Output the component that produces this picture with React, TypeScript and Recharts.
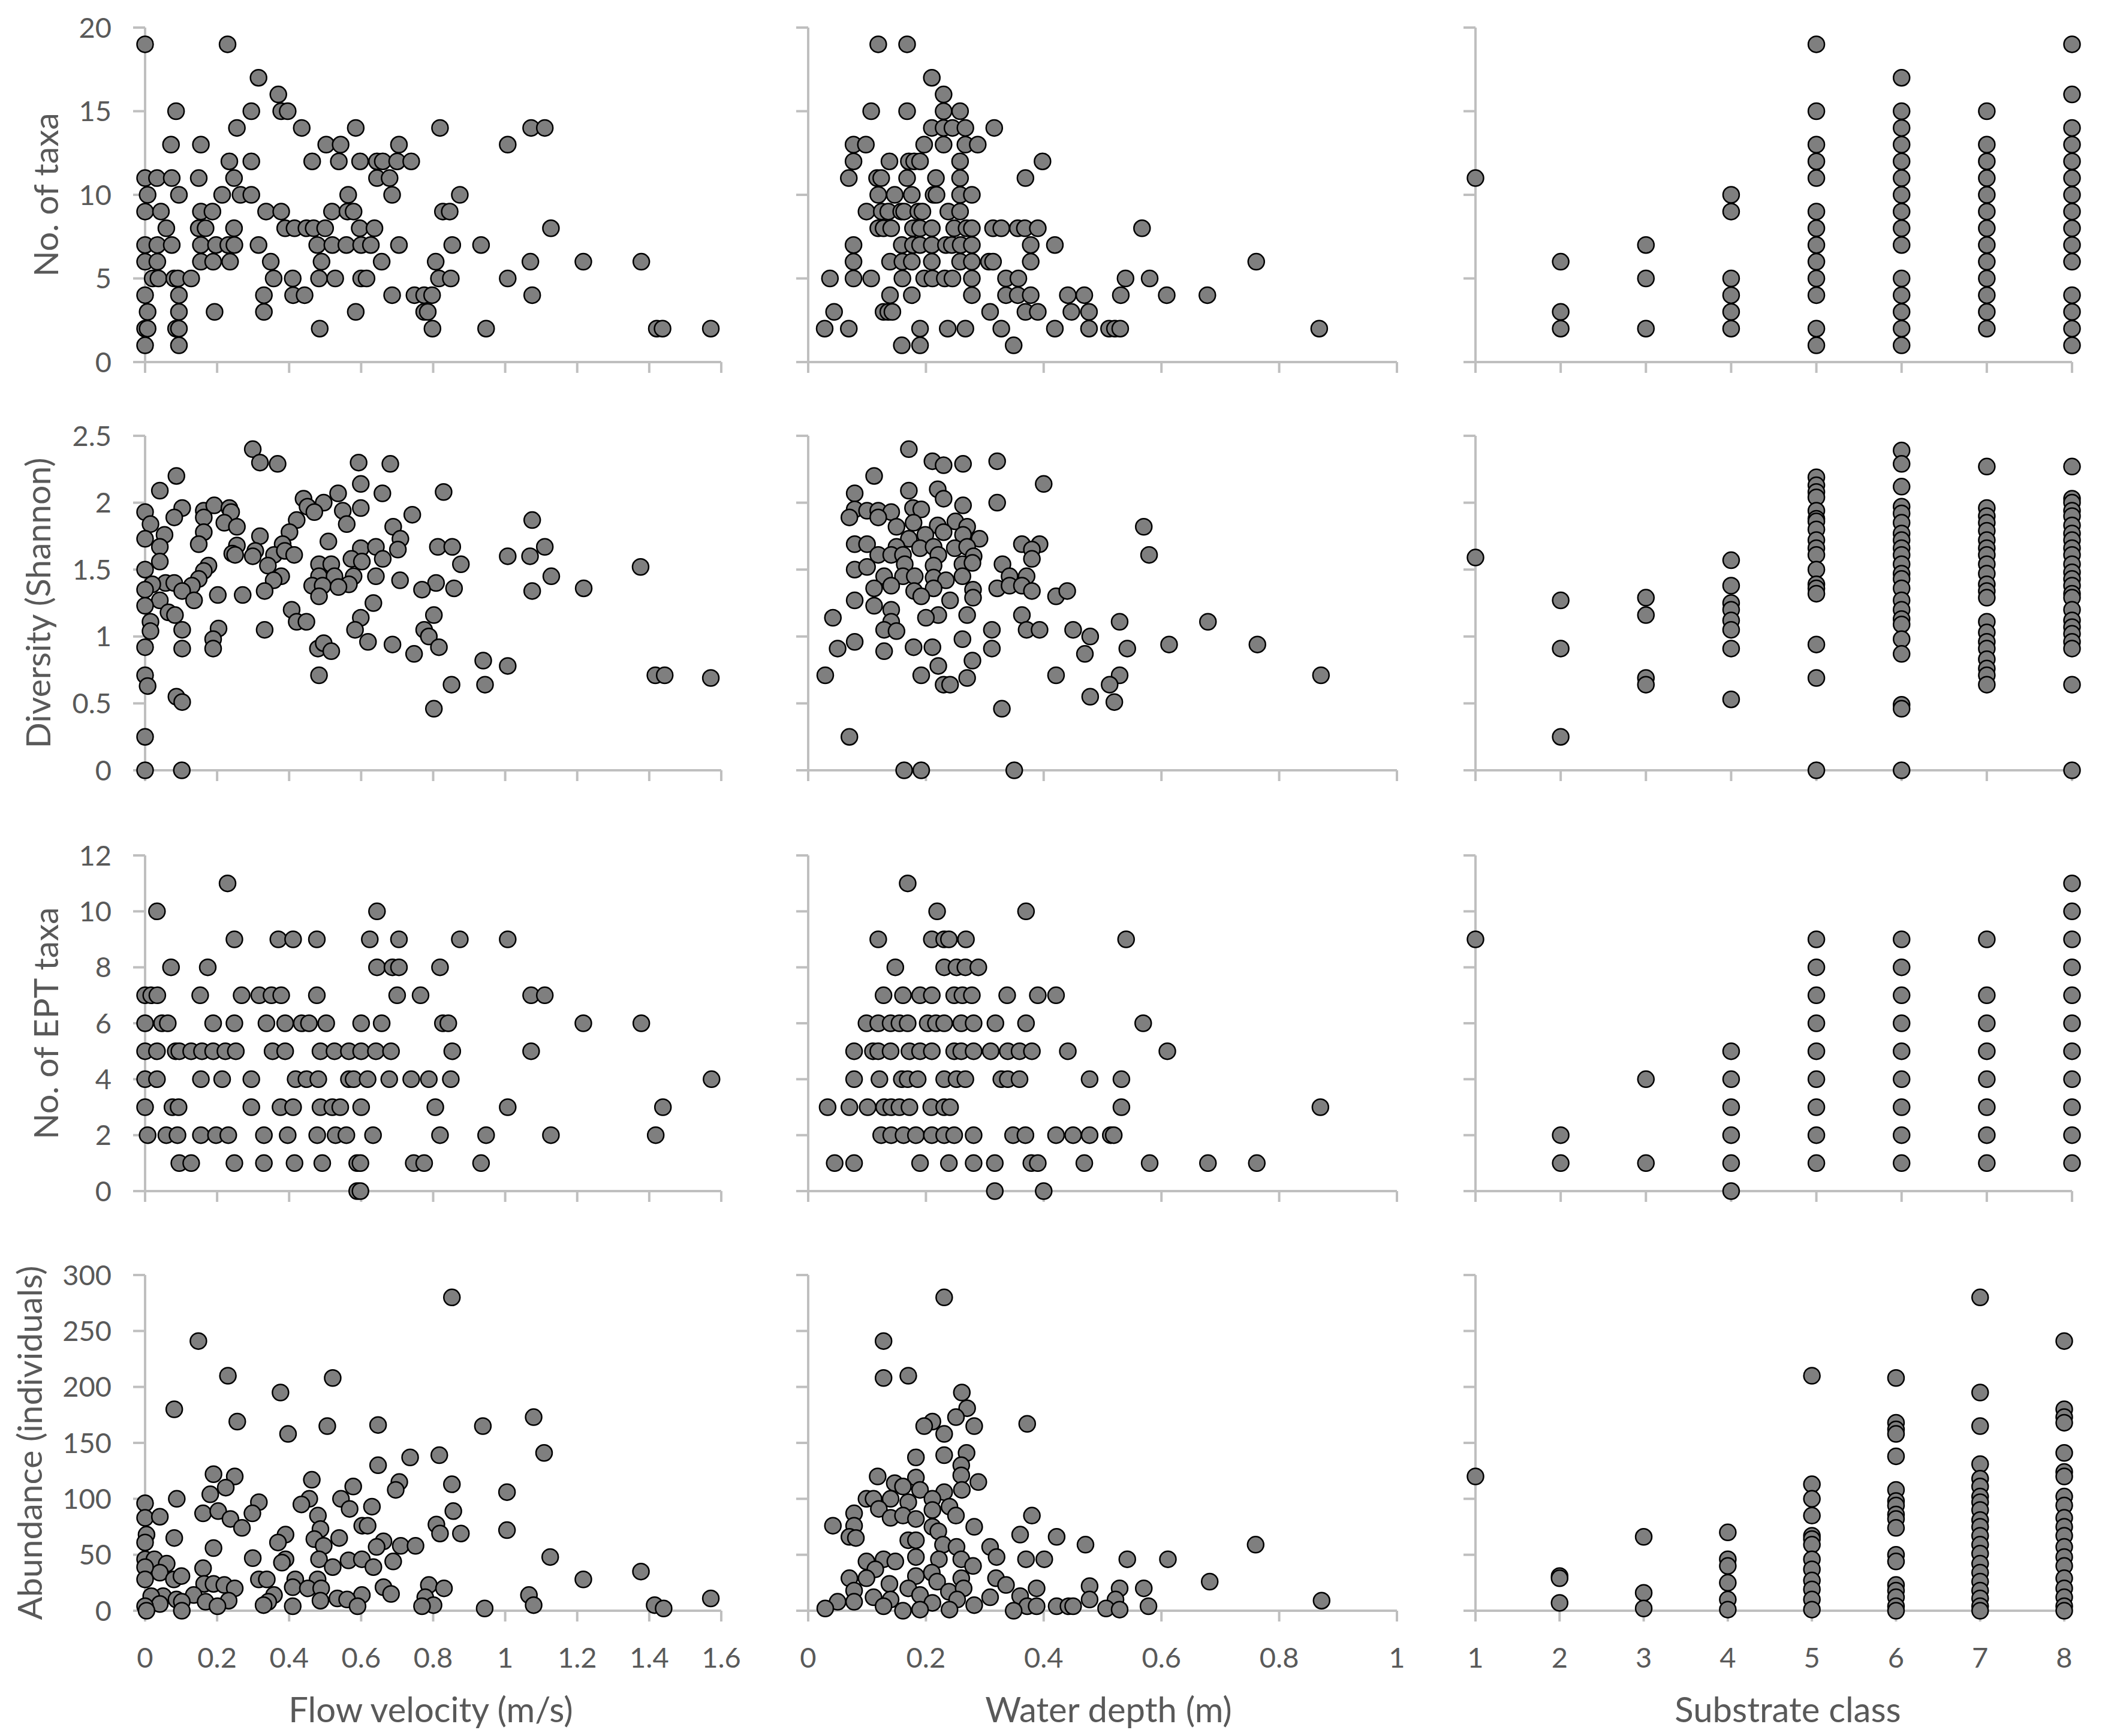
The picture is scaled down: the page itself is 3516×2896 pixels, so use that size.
import { ScatterChart, Scatter, XAxis, YAxis } from "recharts";

// ---- data ----
// rows: [y level, x values at that level]
const taxaFlow: [number, number[]][] = [
  [19, [0, 0.229]],
  [17, [0.315]],
  [16, [0.37]],
  [15, [0.086, 0.295, 0.378, 0.396]],
  [14, [0.255, 0.435, 0.585, 0.819, 1.072, 1.11]],
  [13, [0.072, 0.155, 0.503, 0.543, 0.705, 1.007]],
  [12, [0.234, 0.295, 0.464, 0.538, 0.597, 0.644, 0.66, 0.7, 0.739]],
  [11, [0, 0.033, 0.074, 0.149, 0.247, 0.644, 0.679]],
  [10, [0.007, 0.094, 0.214, 0.265, 0.295, 0.564, 0.686, 0.874]],
  [9, [0, 0.044, 0.155, 0.187, 0.336, 0.378, 0.519, 0.562, 0.579, 0.827, 0.846]],
  [8, [0.059, 0.149, 0.168, 0.247, 0.389, 0.415, 0.448, 0.468, 0.5, 0.596, 0.637, 1.127]],
  [7, [0, 0.034, 0.074, 0.155, 0.197, 0.231, 0.248, 0.315, 0.478, 0.52, 0.559, 0.6, 0.627, 0.705, 0.853, 0.933]],
  [6, [0, 0.034, 0.155, 0.189, 0.236, 0.349, 0.49, 0.657, 0.807, 1.07, 1.217, 1.378]],
  [5, [0.021, 0.037, 0.081, 0.091, 0.128, 0.357, 0.41, 0.483, 0.528, 0.6, 0.615, 0.816, 0.849, 1.007]],
  [4, [0, 0.094, 0.33, 0.411, 0.443, 0.686, 0.748, 0.775, 0.797, 1.075]],
  [3, [0.007, 0.094, 0.193, 0.33, 0.585, 0.775, 0.785]],
  [2, [0, 0.007, 0.086, 0.094, 0.485, 0.798, 0.947, 1.421, 1.437, 1.571]],
  [1, [0, 0.094]],
];

const taxaDepth: [number, number[]][] = [
  [19, [0.119, 0.168]],
  [17, [0.21]],
  [16, [0.23]],
  [15, [0.107, 0.168, 0.23, 0.258]],
  [14, [0.21, 0.23, 0.245, 0.267, 0.316]],
  [13, [0.077, 0.098, 0.197, 0.23, 0.267, 0.288]],
  [12, [0.077, 0.138, 0.171, 0.18, 0.19, 0.258, 0.398]],
  [11, [0.069, 0.117, 0.124, 0.168, 0.217, 0.258, 0.369]],
  [10, [0.119, 0.147, 0.176, 0.213, 0.218, 0.258, 0.278]],
  [9, [0.099, 0.125, 0.136, 0.158, 0.163, 0.187, 0.194, 0.238, 0.258]],
  [8, [0.119, 0.128, 0.141, 0.178, 0.19, 0.21, 0.248, 0.269, 0.278, 0.314, 0.328, 0.356, 0.368, 0.39, 0.567]],
  [7, [0.077, 0.159, 0.178, 0.19, 0.21, 0.234, 0.244, 0.259, 0.278, 0.378, 0.419]],
  [6, [0.077, 0.139, 0.16, 0.176, 0.21, 0.258, 0.278, 0.307, 0.314, 0.378, 0.761]],
  [5, [0.037, 0.077, 0.107, 0.16, 0.197, 0.211, 0.232, 0.245, 0.278, 0.336, 0.357, 0.539, 0.58]],
  [4, [0.139, 0.176, 0.278, 0.336, 0.356, 0.378, 0.441, 0.469, 0.531, 0.609, 0.678]],
  [3, [0.044, 0.128, 0.136, 0.143, 0.309, 0.369, 0.39, 0.447, 0.477]],
  [2, [0.028, 0.069, 0.19, 0.237, 0.267, 0.328, 0.419, 0.477, 0.511, 0.521, 0.53, 0.868]],
  [1, [0.159, 0.19, 0.349]],
];

// cols: [substrate class, y values in that class]
const taxaSubstrate: [number, number[]][] = [
  [1, [11]],
  [2, [6, 3, 2]],
  [3, [7, 5, 2]],
  [4, [10, 9, 5, 4, 3, 2]],
  [5, [19, 15, 13, 12, 11, 9, 8, 7, 6, 5, 4, 2, 1]],
  [6, [17, 15, 14, 13, 12, 11, 10, 9, 8, 7, 5, 4, 3, 2, 1]],
  [7, [15, 13, 12, 11, 10, 9, 8, 7, 6, 5, 4, 3, 2]],
  [8, [19, 16, 14, 13, 12, 11, 10, 9, 8, 7, 6, 4, 3, 2, 1]],
];

// pairs: [x, y]
const divFlow: [number, number][] = [
  [0.299, 2.4], [0.319, 2.3], [0.368, 2.29], [0.593, 2.3], [0.681, 2.29], [0.087, 2.2], [0.041, 2.09],
  [0.599, 2.14], [0.659, 2.07], [0.829, 2.08], [0.536, 2.07], [0.44, 2.03], [0.496, 2.0], [0, 1.93],
  [0.103, 1.96], [0.081, 1.89], [0.163, 1.94], [0.192, 1.98], [0.234, 1.96], [0.239, 1.93], [0.163, 1.89],
  [0.549, 1.94], [0.599, 1.96], [0.451, 1.97], [0.47, 1.93], [0.742, 1.91], [1.075, 1.87], [0.015, 1.84],
  [0.22, 1.85], [0.255, 1.82], [0.421, 1.87], [0.56, 1.84], [0.689, 1.82], [0.163, 1.78], [0.401, 1.78],
  [0.054, 1.76], [0.319, 1.75], [0, 1.73], [0.709, 1.73], [0.509, 1.71], [0.149, 1.69], [0.041, 1.67],
  [0.255, 1.68], [0.382, 1.69], [0.599, 1.66], [0.641, 1.67], [0.813, 1.67], [0.853, 1.67], [1.11, 1.67],
  [0.306, 1.64], [0.242, 1.62], [0.25, 1.61], [0.299, 1.6], [0.358, 1.61], [0.388, 1.64], [0.414, 1.61],
  [0.702, 1.65], [1.007, 1.6], [1.069, 1.6], [0.573, 1.58], [0.66, 1.58], [0.041, 1.56], [0.602, 1.56],
  [0.176, 1.53], [0.877, 1.54], [1.376, 1.52], [0, 1.5], [0.341, 1.53], [0.483, 1.54], [0.517, 1.54],
  [0.163, 1.49], [0.378, 1.45], [0.579, 1.45], [0.641, 1.45], [1.128, 1.45], [0.149, 1.43], [0.357, 1.42],
  [0.483, 1.45], [0.526, 1.45], [0.057, 1.4], [0.081, 1.4], [0.02, 1.39], [0.708, 1.42], [0.808, 1.4],
  [0.13, 1.38], [0.566, 1.39], [0.464, 1.38], [0.493, 1.38], [0, 1.35], [0.103, 1.34], [0.769, 1.35],
  [0.858, 1.36], [1.218, 1.36], [0.537, 1.37], [1.075, 1.34], [0.202, 1.31], [0.271, 1.31], [0.332, 1.34],
  [0.483, 1.3], [0.041, 1.27], [0.136, 1.27], [0, 1.23], [0.634, 1.25], [0.407, 1.2], [0.065, 1.18],
  [0.083, 1.16], [0.599, 1.14], [0.802, 1.16], [0.015, 1.11], [0.421, 1.11], [0.448, 1.11], [0.015, 1.04],
  [0.103, 1.05], [0.204, 1.06], [0.332, 1.05], [0.583, 1.05], [0.775, 1.05], [0.788, 1.0], [0.189, 0.98],
  [0, 0.92], [0.103, 0.91], [0.189, 0.91], [0.48, 0.91], [0.496, 0.95], [0.517, 0.89], [0.619, 0.96],
  [0.687, 0.94], [0.816, 0.92], [0.747, 0.87], [0.939, 0.82], [1.007, 0.78], [0, 0.71], [0.483, 0.71],
  [1.417, 0.71], [1.443, 0.71], [1.571, 0.69], [0.007, 0.63], [0.851, 0.64], [0.944, 0.64], [0.087, 0.55],
  [0.103, 0.51], [0.802, 0.46], [0, 0.25], [0, 0], [0.102, 0],
];

const divDepth: [number, number][] = [
  [0.171, 2.4], [0.211, 2.31], [0.23, 2.28], [0.263, 2.29], [0.321, 2.31], [0.112, 2.2], [0.4, 2.14],
  [0.079, 2.07], [0.171, 2.09], [0.22, 2.1], [0.23, 2.03], [0.321, 2.0], [0.263, 1.98], [0.079, 1.95],
  [0.1, 1.94], [0.119, 1.94], [0.141, 1.93], [0.178, 1.96], [0.192, 1.95], [0.07, 1.89], [0.119, 1.89],
  [0.179, 1.85], [0.15, 1.82], [0.22, 1.83], [0.25, 1.86], [0.27, 1.82], [0.57, 1.82], [0.199, 1.76],
  [0.23, 1.78], [0.263, 1.76], [0.291, 1.73], [0.171, 1.73], [0.079, 1.69], [0.1, 1.69], [0.15, 1.67],
  [0.19, 1.66], [0.213, 1.67], [0.249, 1.66], [0.27, 1.67], [0.363, 1.69], [0.393, 1.69], [0.38, 1.65],
  [0.119, 1.61], [0.141, 1.61], [0.161, 1.61], [0.221, 1.61], [0.281, 1.6], [0.38, 1.58], [0.579, 1.61],
  [0.079, 1.5], [0.1, 1.52], [0.164, 1.54], [0.213, 1.53], [0.262, 1.54], [0.279, 1.55], [0.33, 1.54],
  [0.129, 1.45], [0.161, 1.45], [0.181, 1.45], [0.213, 1.44], [0.234, 1.42], [0.262, 1.45], [0.342, 1.45],
  [0.371, 1.45], [0.112, 1.36], [0.141, 1.38], [0.18, 1.34], [0.213, 1.36], [0.28, 1.35], [0.321, 1.36],
  [0.342, 1.38], [0.363, 1.38], [0.38, 1.34], [0.421, 1.3], [0.44, 1.34], [0.192, 1.3], [0.28, 1.29],
  [0.079, 1.27], [0.241, 1.27], [0.112, 1.23], [0.141, 1.2], [0.221, 1.16], [0.2, 1.14], [0.27, 1.16],
  [0.363, 1.16], [0.042, 1.14], [0.529, 1.11], [0.679, 1.11], [0.141, 1.11], [0.129, 1.05], [0.15, 1.04],
  [0.312, 1.05], [0.371, 1.05], [0.393, 1.05], [0.45, 1.05], [0.479, 1.0], [0.262, 0.98], [0.079, 0.96],
  [0.613, 0.94], [0.763, 0.94], [0.05, 0.91], [0.179, 0.92], [0.211, 0.92], [0.312, 0.91], [0.129, 0.89],
  [0.542, 0.91], [0.47, 0.87], [0.279, 0.82], [0.221, 0.78], [0.029, 0.71], [0.192, 0.71], [0.421, 0.71],
  [0.529, 0.71], [0.871, 0.71], [0.27, 0.69], [0.23, 0.64], [0.241, 0.64], [0.512, 0.64], [0.479, 0.55],
  [0.52, 0.51], [0.329, 0.46], [0.07, 0.25], [0.163, 0], [0.192, 0], [0.35, 0],
];

const divSubstrate: [number, number[]][] = [
  [1, [1.59]],
  [2, [1.27, 0.91, 0.25]],
  [3, [1.29, 1.16, 0.69, 0.64]],
  [4, [1.57, 1.38, 1.25, 1.2, 1.12, 1.05, 0.91, 0.53]],
  [5, [2.19, 2.13, 2.08, 2.04, 1.94, 1.88, 1.86, 1.8, 1.72, 1.66, 1.61, 1.5, 1.39, 1.36, 1.32, 0.94, 0.69, 0]],
  [6, [2.39, 2.29, 2.12, 1.97, 1.92, 1.85, 1.77, 1.72, 1.66, 1.61, 1.54, 1.47, 1.43, 1.36, 1.27, 1.2, 1.13, 1.09, 0.98, 0.87, 0.49, 0.46, 0]],
  [7, [2.27, 1.96, 1.9, 1.85, 1.79, 1.72, 1.66, 1.61, 1.54, 1.47, 1.39, 1.34, 1.29, 1.11, 1.03, 0.96, 0.91, 0.83, 0.76, 0.71, 0.64]],
  [8, [2.27, 2.03, 2.0, 1.94, 1.9, 1.83, 1.77, 1.72, 1.66, 1.61, 1.54, 1.48, 1.43, 1.38, 1.32, 1.29, 1.2, 1.12, 1.07, 1.02, 0.96, 0.91, 0.64, 0]],
];

const eptFlow: [number, number[]][] = [
  [11, [0.229]],
  [10, [0.033, 0.644]],
  [9, [0.248, 0.37, 0.411, 0.477, 0.624, 0.705, 0.874, 1.007]],
  [8, [0.072, 0.174, 0.644, 0.687, 0.705, 0.819]],
  [7, [0, 0.017, 0.034, 0.153, 0.268, 0.317, 0.351, 0.378, 0.477, 0.7, 0.765, 1.072, 1.11]],
  [6, [0, 0.047, 0.063, 0.189, 0.248, 0.337, 0.389, 0.435, 0.455, 0.503, 0.6, 0.657, 0.827, 0.842, 1.217, 1.378]],
  [5, [0, 0.033, 0.085, 0.095, 0.128, 0.158, 0.189, 0.223, 0.252, 0.354, 0.389, 0.487, 0.526, 0.566, 0.6, 0.641, 0.683, 0.853, 1.072]],
  [4, [0, 0.033, 0.155, 0.214, 0.295, 0.418, 0.448, 0.481, 0.566, 0.579, 0.618, 0.678, 0.739, 0.788, 0.849, 1.573]],
  [3, [0, 0.076, 0.093, 0.295, 0.376, 0.411, 0.487, 0.52, 0.542, 0.6, 0.806, 1.007, 1.438]],
  [2, [0.007, 0.059, 0.09, 0.155, 0.197, 0.231, 0.33, 0.396, 0.478, 0.529, 0.559, 0.633, 0.819, 0.947, 1.127, 1.418]],
  [1, [0.095, 0.128, 0.248, 0.33, 0.415, 0.492, 0.589, 0.598, 0.746, 0.775, 0.933]],
  [0, [0.589, 0.598]],
];

const eptDepth: [number, number[]][] = [
  [11, [0.169]],
  [10, [0.219, 0.37]],
  [9, [0.119, 0.21, 0.231, 0.239, 0.268, 0.54]],
  [8, [0.148, 0.231, 0.252, 0.267, 0.289]],
  [7, [0.128, 0.161, 0.19, 0.21, 0.248, 0.262, 0.278, 0.338, 0.39, 0.421]],
  [6, [0.099, 0.119, 0.14, 0.155, 0.169, 0.203, 0.217, 0.231, 0.26, 0.281, 0.318, 0.37, 0.569]],
  [5, [0.078, 0.11, 0.119, 0.14, 0.172, 0.19, 0.21, 0.248, 0.26, 0.281, 0.31, 0.339, 0.359, 0.38, 0.441, 0.61]],
  [4, [0.078, 0.121, 0.159, 0.169, 0.186, 0.231, 0.252, 0.267, 0.328, 0.339, 0.359, 0.478, 0.532]],
  [3, [0.033, 0.07, 0.101, 0.129, 0.141, 0.155, 0.172, 0.209, 0.231, 0.241, 0.532, 0.87]],
  [2, [0.124, 0.141, 0.162, 0.183, 0.21, 0.231, 0.248, 0.281, 0.348, 0.369, 0.421, 0.45, 0.478, 0.514, 0.519]],
  [1, [0.045, 0.078, 0.19, 0.239, 0.281, 0.317, 0.379, 0.39, 0.469, 0.58, 0.679, 0.762]],
  [0, [0.317, 0.4]],
];

const eptSubstrate: [number, number[]][] = [
  [1, [9]],
  [2, [2, 1]],
  [3, [4, 1]],
  [4, [5, 4, 3, 2, 1, 0]],
  [5, [9, 8, 7, 6, 5, 4, 3, 2, 1]],
  [6, [9, 8, 7, 6, 5, 4, 3, 2, 1]],
  [7, [9, 7, 6, 5, 4, 3, 2, 1]],
  [8, [11, 10, 9, 8, 7, 6, 5, 4, 3, 2, 1]],
];

const abunFlow: [number, number][] = [
  [0.852, 280], [0.148, 241], [0.23, 210], [0.521, 208], [0.376, 195], [0.081, 180], [1.079, 173],
  [0.256, 169], [0.647, 166], [0.506, 165], [0.938, 165], [0.397, 158], [1.108, 141], [0.817, 139],
  [0.736, 137], [0.647, 130], [0.19, 122], [0.249, 120], [0.463, 117], [0.706, 115], [0.852, 113],
  [0.578, 111], [0.224, 110], [0.696, 108], [1.005, 106], [0.181, 104], [0.544, 100], [0.088, 100],
  [0, 96], [0.316, 97], [0.456, 100], [0.434, 95], [0.63, 93], [0.568, 91], [0.856, 89], [0, 83],
  [0.041, 84], [0.161, 87], [0.203, 89], [0.237, 82], [0.298, 87], [0.48, 85], [0.269, 74], [0.603, 76],
  [0.618, 76], [0.487, 73], [0.809, 77], [0.819, 69], [0.877, 69], [1.005, 72], [0.39, 68], [0.004, 68],
  [0.081, 65], [0.539, 65], [0.369, 61], [0.47, 64], [0.662, 62], [0, 61], [0.496, 58], [0.71, 58],
  [0.751, 58], [0.643, 57], [0.19, 56], [0.299, 47], [0.39, 46], [0.483, 46], [0.565, 45], [0.602, 46],
  [1.125, 48], [0.689, 44], [0.38, 43], [0, 46], [0.026, 46], [0.06, 42], [0.041, 34], [0, 39],
  [0.161, 38], [0.521, 39], [0.634, 39], [1.377, 35], [1.217, 28], [0.316, 28], [0.338, 28], [0, 28],
  [0.08, 28], [0.101, 31], [0.417, 28], [0.479, 28], [0.164, 24], [0.19, 24], [0.22, 23], [0.249, 20],
  [0.41, 21], [0.452, 20], [0.489, 20], [0.788, 23], [0.83, 20], [0.662, 21], [0.683, 15], [0.358, 14],
  [0.135, 14], [0.05, 13], [0.017, 13], [0.602, 14], [1.066, 14], [1.571, 11], [0.778, 12], [0.534, 11],
  [0.561, 10], [0.487, 9], [0.342, 8], [0.087, 10], [0.102, 8], [0.232, 9], [0.168, 8], [0.041, 6],
  [1.079, 5], [1.415, 5], [1.44, 2], [0.943, 2], [0.801, 5], [0.769, 4], [0.329, 5], [0.41, 4],
  [0.59, 4], [0.201, 4], [0, 4], [0.004, 0], [0.102, 0],
];

const abunDepth: [number, number][] = [
  [0.231, 280], [0.128, 241], [0.128, 208], [0.17, 210], [0.261, 195], [0.27, 181], [0.251, 173],
  [0.211, 169], [0.197, 165], [0.282, 165], [0.372, 167], [0.231, 158], [0.183, 137], [0.231, 139],
  [0.269, 141], [0.26, 130], [0.26, 121], [0.118, 120], [0.289, 115], [0.183, 119], [0.147, 114],
  [0.161, 111], [0.19, 108], [0.261, 108], [0.231, 106], [0.099, 100], [0.111, 100], [0.14, 100],
  [0.211, 100], [0.17, 97], [0.12, 91], [0.211, 90], [0.24, 93], [0.078, 87], [0.38, 85], [0.251, 85],
  [0.14, 83], [0.161, 85], [0.183, 82], [0.042, 76], [0.078, 76], [0.211, 75], [0.282, 75], [0.221, 71],
  [0.36, 68], [0.422, 66], [0.07, 66], [0.081, 65], [0.17, 63], [0.183, 63], [0.229, 59], [0.252, 57],
  [0.309, 57], [0.471, 59], [0.76, 59], [0.32, 48], [0.37, 46], [0.401, 46], [0.542, 46], [0.611, 46],
  [0.099, 44], [0.128, 46], [0.148, 44], [0.183, 48], [0.222, 46], [0.26, 46], [0.28, 40], [0.114, 37],
  [0.21, 34], [0.183, 31], [0.26, 29], [0.07, 29], [0.099, 29], [0.319, 29], [0.682, 26], [0.336, 23],
  [0.138, 24], [0.219, 26], [0.388, 20], [0.478, 22], [0.529, 20], [0.57, 20], [0.078, 18], [0.17, 20],
  [0.239, 17], [0.264, 20], [0.19, 14], [0.111, 12], [0.309, 12], [0.36, 13], [0.478, 10], [0.522, 10],
  [0.872, 9], [0.05, 8], [0.078, 8], [0.14, 10], [0.211, 7], [0.253, 10], [0.282, 5], [0.372, 4],
  [0.388, 4], [0.422, 4], [0.442, 4], [0.45, 4], [0.578, 4], [0.029, 2], [0.128, 4], [0.161, 0],
  [0.19, 1], [0.24, 1], [0.349, 0], [0.506, 2], [0.529, 1],
];

const abunSubstrate: [number, number[]][] = [
  [1, [120]],
  [2, [31, 29, 7]],
  [3, [66, 16, 2]],
  [4, [70, 46, 40, 25, 10, 1]],
  [5, [210, 113, 100, 85, 67, 64, 59, 46, 37, 27, 19, 10, 1]],
  [6, [208, 168, 162, 158, 138, 108, 98, 94, 86, 82, 74, 50, 44, 23, 18, 12, 4, 0]],
  [7, [280, 195, 165, 131, 118, 111, 102, 97, 90, 81, 75, 67, 59, 51, 42, 34, 26, 18, 11, 4, 0]],
  [8, [241, 180, 173, 168, 141, 124, 120, 102, 94, 83, 75, 67, 57, 48, 40, 29, 20, 12, 4, 0]],
];

const flowTicks = [0, 0.2, 0.4, 0.6, 0.8, 1, 1.2, 1.4, 1.6];
const depthTicks = [0, 0.2, 0.4, 0.6, 0.8, 1];
const substrateTicks = [1, 2, 3, 4, 5, 6, 7, 8];
const taxaTicks = [0, 5, 10, 15, 20];
const divTicks = [0, 0.5, 1, 1.5, 2, 2.5];
const eptTicks = [0, 2, 4, 6, 8, 10, 12];
const abunTicks = [0, 50, 100, 150, 200, 250, 300];

type Pt = { x: number; y: number };
const fromRows = (rows: [number, number[]][]): Pt[] =>
  rows.flatMap(([y, xs]) => xs.map((x) => ({ x, y })));
const fromCols = (cols: [number, number[]][]): Pt[] =>
  cols.flatMap(([x, ys]) => ys.map((y) => ({ x, y })));
const fromPairs = (pairs: [number, number][]): Pt[] => pairs.map(([x, y]) => ({ x, y }));

const GREY = "#595959";
const AXIS = "#bfbfbf";
const FONT = "Lato, 'Open Sans', sans-serif";
const TICK_FS = 47;
const TITLE_FS = 58;

const Dot = (props: any) => (
  <circle cx={props.cx} cy={props.cy} r={13.5} fill="#7f7f7f" stroke="#000" strokeWidth={2.5} />
);
const NoTick = () => <g />;

type PanelProps = {
  data: Pt[];
  left: number;
  top: number;
  width: number;
  height: number;
  xDomain: [number, number];
  xTicks: number[];
  yDomain: [number, number];
  yTicks: number[];
  yTitle?: string;
  yTitleOffset?: number;
  xTitle?: string;
  xTitleDx?: number;
};

const MT = 30;
const MR = 60;

const Panel = (p: PanelProps) => {
  const showY = !!p.yTitle;
  const showX = !!p.xTitle;
  const yw = showY ? p.left : 60;
  const xh = showX ? 200 : 40;
  return (
    <div style={{ position: "absolute", left: p.left - yw, top: p.top - MT }}>
      <ScatterChart
        width={yw + p.width + MR}
        height={MT + p.height + xh}
        margin={{ top: MT, right: MR, bottom: 0, left: 0 }}
      >
        <XAxis
          type="number"
          dataKey="x"
          domain={p.xDomain}
          ticks={p.xTicks}
          interval={0}
          height={xh}
          axisLine={{ stroke: AXIS, strokeWidth: 4 }}
          tickLine={{ stroke: AXIS, strokeWidth: 4 }}
          tickSize={18}
          tickMargin={44}
          tick={showX ? { fill: GREY, fontSize: TICK_FS, fontFamily: FONT } : NoTick}
          label={
            showX
              ? {
                  value: p.xTitle,
                  position: "insideBottom",
                  offset: 14,
                  dx: p.xTitleDx ?? 0,
                  style: { fill: GREY, fontSize: TITLE_FS, fontFamily: FONT },
                }
              : undefined
          }
        />
        <YAxis
          type="number"
          dataKey="y"
          domain={p.yDomain}
          ticks={p.yTicks}
          interval={0}
          width={yw}
          axisLine={{ stroke: AXIS, strokeWidth: 4 }}
          tickLine={{ stroke: AXIS, strokeWidth: 4 }}
          tickSize={20}
          tickMargin={36}
          tick={showY ? { fill: GREY, fontSize: TICK_FS, fontFamily: FONT } : NoTick}
          label={
            showY
              ? {
                  value: p.yTitle,
                  angle: -90,
                  position: "insideLeft",
                  offset: p.yTitleOffset ?? 77,
                  style: { textAnchor: "middle", fill: GREY, fontSize: 57, fontFamily: FONT },
                }
              : undefined
          }
        />
        <Scatter data={p.data} shape={Dot} isAnimationActive={false} />
      </ScatterChart>
    </div>
  );
};

// plot areas (px)
const COL = [
  { left: 242, width: 961 },
  { left: 1348, width: 982 },
  { left: 2461, width: 995 },
];
const ROW = [
  { top: 46, height: 558 },
  { top: 727, height: 558 },
  { top: 1427, height: 560 },
  { top: 2127, height: 560 },
];

export default function App() {
  return (
    <div
      style={{
        position: "absolute",
        left: 0,
        top: 0,
        width: 3516,
        height: 2896,
        background: "#fff",
        overflow: "hidden",
      }}
    >
      {/* row 1: number of taxa */}
      <Panel data={fromRows(taxaFlow)} {...COL[0]} {...ROW[0]} xDomain={[0, 1.6]} xTicks={flowTicks}
        yDomain={[0, 20]} yTicks={taxaTicks} yTitle="No. of taxa" yTitleOffset={77} />
      <Panel data={fromRows(taxaDepth)} {...COL[1]} {...ROW[0]} xDomain={[0, 1]} xTicks={depthTicks}
        yDomain={[0, 20]} yTicks={taxaTicks} />
      <Panel data={fromCols(taxaSubstrate)} {...COL[2]} {...ROW[0]} xDomain={[1, 8]} xTicks={substrateTicks}
        yDomain={[0, 20]} yTicks={taxaTicks} />

      {/* row 2: Shannon diversity */}
      <Panel data={fromPairs(divFlow)} {...COL[0]} {...ROW[1]} xDomain={[0, 1.6]} xTicks={flowTicks}
        yDomain={[0, 2.5]} yTicks={divTicks} yTitle="Diversity (Shannon)" yTitleOffset={64} />
      <Panel data={fromPairs(divDepth)} {...COL[1]} {...ROW[1]} xDomain={[0, 1]} xTicks={depthTicks}
        yDomain={[0, 2.5]} yTicks={divTicks} />
      <Panel data={fromCols(divSubstrate)} {...COL[2]} {...ROW[1]} xDomain={[1, 8]} xTicks={substrateTicks}
        yDomain={[0, 2.5]} yTicks={divTicks} />

      {/* row 3: EPT taxa */}
      <Panel data={fromRows(eptFlow)} {...COL[0]} {...ROW[2]} xDomain={[0, 1.6]} xTicks={flowTicks}
        yDomain={[0, 12]} yTicks={eptTicks} yTitle="No. of EPT taxa" yTitleOffset={77} />
      <Panel data={fromRows(eptDepth)} {...COL[1]} {...ROW[2]} xDomain={[0, 1]} xTicks={depthTicks}
        yDomain={[0, 12]} yTicks={eptTicks} />
      <Panel data={fromCols(eptSubstrate)} {...COL[2]} {...ROW[2]} xDomain={[1, 8]} xTicks={substrateTicks}
        yDomain={[0, 12]} yTicks={eptTicks} />

      {/* row 4: abundance */}
      <Panel data={fromPairs(abunFlow)} {...COL[0]} {...ROW[3]} xDomain={[0, 1.6]} xTicks={flowTicks}
        yDomain={[0, 300]} yTicks={abunTicks} yTitle="Abundance (individuals)" yTitleOffset={50}
        xTitle="Flow velocity (m/s)" xTitleDx={-4} />
      <Panel data={fromPairs(abunDepth)} {...COL[1]} {...ROW[3]} xDomain={[0, 1]} xTicks={depthTicks}
        yDomain={[0, 300]} yTicks={abunTicks} xTitle="Water depth (m)" xTitleDx={10} />
      <Panel data={fromCols(abunSubstrate)} left={2461} width={982} {...ROW[3]} xDomain={[1, 8]}
        xTicks={substrateTicks} yDomain={[0, 300]} yTicks={abunTicks} xTitle="Substrate class" xTitleDx={30} />
    </div>
  );
}
